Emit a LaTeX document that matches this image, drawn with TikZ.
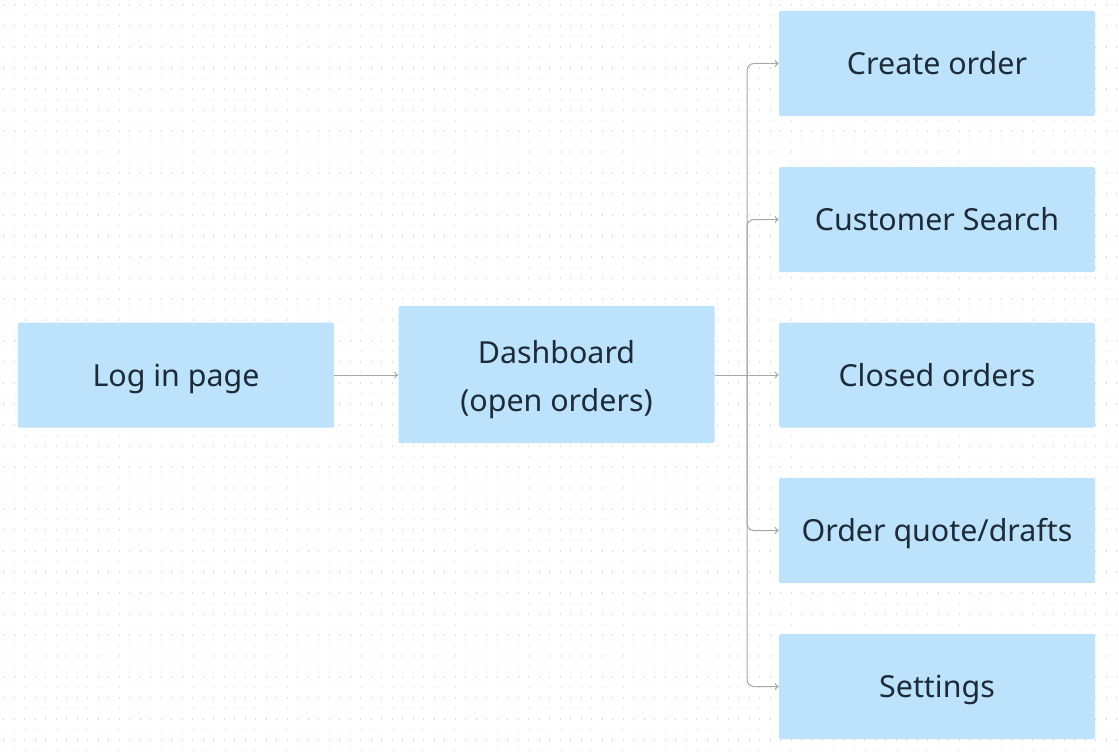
\documentclass[tikz,border=0pt]{standalone}
\usepackage{fontspec}
\setmainfont{Noto Sans}
\usetikzlibrary{arrows.meta}
\definecolor{boxfill}{HTML}{BDE3FC}
\definecolor{txt}{HTML}{1D2A38}
\definecolor{linec}{HTML}{A8A8A8}
\definecolor{dotc}{HTML}{DDDDDD}
\begin{document}
\begin{tikzpicture}[x=1bp,y=-1bp,
  box/.style={draw=none,fill=boxfill,rounded corners=1.5bp,minimum width=316bp,minimum height=105bp,
    inner sep=0pt,text=txt,font=\fontsize{30.5}{48}\selectfont,align=center,
    text height=22bp,text depth=0bp},
  conn/.style={draw=linec,line width=1bp,-{To[length=4bp,width=7bp]}},
  branchline/.style={conn,rounded corners=7bp}]
\fill[white] (0,0) rectangle (1119,756);
\useasboundingbox (0,0) rectangle (1119,756);
% dot grid
\foreach \yy in {5,15.5,...,756}{
  \draw[dotc,line width=1.2bp,dash pattern=on 1.2bp off 9.3bp] (3,\yy) -- (1119,\yy);
}
\node[box] (login) at (176,375) {Log in page};
\node[box,minimum height=137bp,text height=73bp,text depth=0bp] (dash) at (556.5,374.5) {Dashboard\\(open orders)};
\node[box] (create) at (937,63.5) {Create order};
\node[box] (cust) at (937,219.5) {Customer Search};
\node[box] (closed) at (937,375) {Closed orders};
\node[box] (quote) at (937,530.5) {Order quote/drafts};
\node[box] (set) at (937,686.5) {Settings};
\coordinate (j) at (747,375);
\draw[conn] (login.east) -- (dash.west |- login.east);
\draw[conn] (dash.east |- closed.west) -- (closed.west);
\draw[branchline] (j) |- (create.west);
\draw[branchline] (j) |- (cust.west);
\draw[branchline] (j) |- (quote.west);
\draw[branchline] (j) |- (set.west);
\end{tikzpicture}
\end{document}
